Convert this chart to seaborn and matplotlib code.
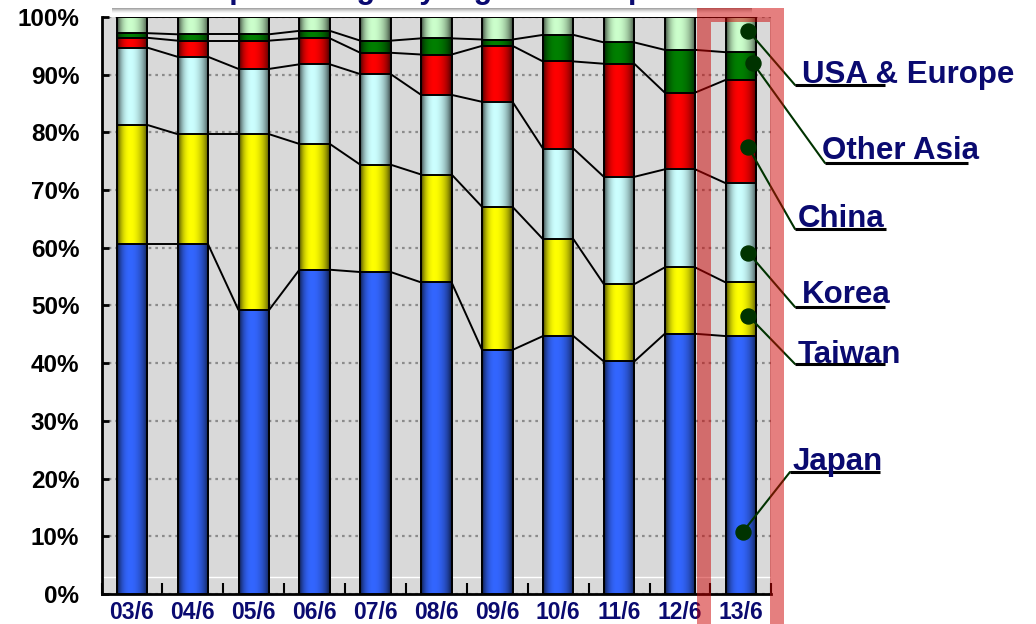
import numpy as np
import pandas as pd
import matplotlib
matplotlib.use("Agg")
import matplotlib.pyplot as plt
import matplotlib.colors as mcolors
from matplotlib.patches import Rectangle
from matplotlib.lines import Line2D
import seaborn as sns

# ---- data: share of shipments by destination (%), fiscal years ending June ----
periods = ["03/6", "04/6", "05/6", "06/6", "07/6", "08/6", "09/6", "10/6", "11/6", "12/6", "13/6"]
japan = [60.6, 60.6, 49.2, 56.2, 55.8, 54.0, 42.3, 44.7, 40.3, 45.1, 44.7]
taiwan = [20.7, 19.1, 30.5, 21.8, 18.6, 18.7, 24.8, 16.8, 13.4, 11.5, 9.3]
korea = [13.4, 13.4, 11.3, 13.8, 15.7, 13.8, 18.2, 15.7, 18.6, 17.0, 17.2]
china = [1.7, 2.8, 4.9, 4.5, 3.7, 7.0, 9.7, 15.1, 19.6, 13.3, 17.9]
other_asia = [0.8, 1.1, 1.1, 1.3, 2.1, 2.8, 1.1, 4.6, 3.7, 7.4, 4.8]
usa_europe = [2.8, 3.0, 3.0, 2.4, 4.1, 3.7, 3.9, 3.1, 4.4, 5.7, 6.1]

region_names = ["Japan", "Taiwan", "Korea", "China", "Other Asia", "USA & Europe"]
region_values = [japan, taiwan, korea, china, other_asia, usa_europe]
region_colors = ["#3366FF", "#FFFF00", "#CCFFFF", "#FF0000", "#008000", "#CCFFCC"]
y_ticks = list(range(0, 101, 10))
title_text = "Sales percentage by region of shipment"

# ---- styling ----
W, H, DPI = 1036, 624, 100
NAVY = "#0A0A70"
LEADER = "#003300"

sns.set_theme(style="white")
plt.rcParams["font.family"] = ["Liberation Sans", "DejaVu Sans"]
plt.rcParams["font.weight"] = "bold"

fig = plt.figure(figsize=(W / DPI, H / DPI), dpi=DPI)
fig.patch.set_facecolor("white")
ax_left, ax_right, ax_top, ax_bottom = 101.5, 771.3, 17, 594
ax = fig.add_axes([ax_left / W, (H - ax_bottom) / H,
                   (ax_right - ax_left) / W, (ax_bottom - ax_top) / H])
ax.set_facecolor("#D9D9D9")

cum = np.cumsum(np.array(region_values, dtype=float), axis=0)


def shade(color, n=64):
    """Horizontal cylinder-like shading: dark edges, bright left-of-centre."""
    t = np.linspace(0, 1, n)
    d = np.where(t < 0.42, (0.42 - t) / 0.42, (t - 0.42) / 0.58)
    f = 0.22 + 0.78 * np.clip(1 - d ** 2, 0, 1) ** 0.75
    rgb = np.array(mcolors.to_rgb(color))
    return (rgb[None, None, :] * f[None, :, None]).clip(0, 1)


# stacked bars drawn as cumulative layers, tallest first
layer_patches = {}
for k in reversed(range(len(region_names))):
    df = pd.DataFrame({"period": periods, "top": cum[k]})
    n0 = len(ax.patches)
    z = 2 + (len(region_names) - k) * 0.2
    sns.barplot(data=df, x="period", y="top", color=region_colors[k], saturation=1,
                width=0.5, errorbar=None, edgecolor="black", linewidth=1.4,
                ax=ax, zorder=z + 0.1)
    patches = ax.patches[n0:]
    layer_patches[k] = patches
    for i, p in enumerate(patches):
        x0, w = p.get_x(), p.get_width()
        top = p.get_y() + p.get_height()
        bottom = cum[k - 1][i] if k > 0 else 0.0
        ax.imshow(shade(region_colors[k]), extent=(x0, x0 + w, bottom, top),
                  aspect="auto", interpolation="bilinear", zorder=z)
        p.set_facecolor("none")

# series lines joining the segment tops of neighbouring bars
base = layer_patches[0]
for k in range(len(region_names)):
    for i in range(len(periods) - 1):
        xa = base[i].get_x() + base[i].get_width()
        xb = base[i + 1].get_x()
        ax.plot([xa, xb], [cum[k][i], cum[k][i + 1]], color="black", lw=1.4,
                zorder=1.8, solid_capstyle="butt")

# axes
ax.set_xlim(-0.5, len(periods) - 0.5)
ax.set_ylim(0, 100)
ax.set_xlabel("")
ax.set_ylabel("")
ax.axhline(3, color="white", lw=1, zorder=1.2)
ax.set_yticks(y_ticks)
ax.set_yticklabels([f"{v}%" for v in y_ticks], fontsize=17.5, fontweight="bold", color="black")
ax.yaxis.grid(True, color="#8C8C8C", linestyle=(0, (1.2, 1.8)), linewidth=1.6)
ax.xaxis.grid(False)
ax.set_axisbelow(True)
ax.set_xticks(range(len(periods)))
ax.set_xticklabels(periods, fontsize=16.5, fontweight="bold", color=NAVY)
ax.set_xticks(np.arange(-0.5, len(periods), 1.0), minor=True)
ax.tick_params(axis="y", direction="in", length=5, width=2, color="black", pad=16, left=True)
ax.tick_params(axis="x", which="major", length=0, pad=5)
ax.tick_params(axis="x", which="minor", direction="in", length=8, width=1.5, color="black", bottom=True)
for side in ("top", "right"):
    ax.spines[side].set_visible(False)
for side in ("left", "bottom"):
    ax.spines[side].set_visible(True)
    ax.spines[side].set_color("black")
    ax.spines[side].set_linewidth(2)

# title box (running off the top edge)
fig.patches.append(Rectangle((108 / W, (H - 8) / H), (750 - 108) / W, 20 / H,
                             transform=fig.transFigure, facecolor="white",
                             edgecolor="none", zorder=4))
for j, a in enumerate([0.35, 0.25, 0.16, 0.09, 0.04]):
    fig.patches.append(Rectangle((112 / W, (H - 9 - j) / H), (752 - 112) / W, 1 / H,
                                 transform=fig.transFigure, facecolor="black",
                                 alpha=a, edgecolor="none", zorder=4))
fig.text(430 / W, 1 + 1.5 / H, title_text, ha="center", va="baseline",
         fontsize=22, fontweight="bold", color=NAVY, zorder=4.5)

# highlight frame round the latest period
fig.patches.append(Rectangle((704 / W, (H - 650) / H), (777 - 704) / W, (650 - 15) / H,
                             transform=fig.transFigure, fill=False,
                             edgecolor=(0.8, 0.0, 0.0, 0.5), lw=14 * 72 / DPI,
                             joinstyle="miter", zorder=5))

# callout labels for the latest bar
# (name index, dot x offset from bar centre, dot position within segment,
#  text left x, text baseline y, underline x0, underline x1, underline y) in px from top-left
callouts = [
    (5, 0.12, 0.61, 802, 83, 795, 885, 85),
    (4, 0.20, 0.60, 822, 159, 825, 968, 163),
    (3, 0.12, 0.35, 798, 227, 795, 886, 229),
    (2, 0.12, 0.30, 802, 303, 795, 885, 307),
    (1, 0.12, 0.38, 798, 363, 795, 885, 364),
    (0, 0.03, 0.24, 793, 470, 790, 880, 472),
]
last = len(periods) - 1
for k, dx, frac, tx, ty, ux0, ux1, uy in callouts:
    bottom = cum[k - 1][last] if k > 0 else 0.0
    dy = bottom + frac * (cum[k][last] - bottom)
    ax.plot([last + dx], [dy], "o", ms=10.8, color=LEADER, clip_on=False, zorder=6)
    ax.annotate("", xy=(last + dx, dy), xycoords="data",
                xytext=(ux0, H - uy), textcoords="figure pixels",
                arrowprops=dict(arrowstyle="-", color=LEADER, lw=1.5,
                                shrinkA=0, shrinkB=0),
                annotation_clip=False, zorder=6)
    fig.lines.append(Line2D([ux0 / W, ux1 / W], [(H - uy) / H, (H - uy) / H],
                            transform=fig.transFigure, color="black", lw=2.2,
                            solid_capstyle="butt", zorder=6))
    fig.text(tx / W, (H - ty) / H, region_names[k], ha="left", va="baseline",
             fontsize=22.5, fontweight="bold", color=NAVY, zorder=7)

fig.savefig("out.png", dpi=DPI, facecolor="white")
